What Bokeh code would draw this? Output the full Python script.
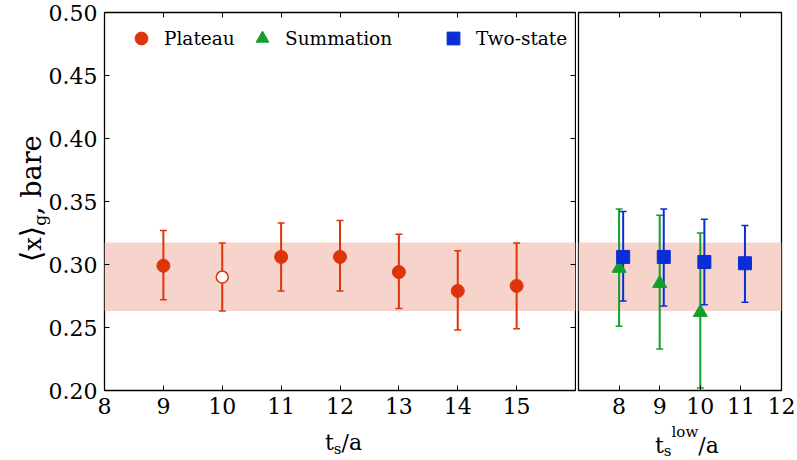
import numpy as np
from bokeh.plotting import figure
from bokeh.models import (ColumnDataSource, Whisker, TeeHead, LinearAxis, FixedTicker,
                          Range1d, Legend, LegendItem, BoxAnnotation, Div)
from bokeh.layouts import row, column
from bokeh.embed import file_html
from bokeh.resources import INLINE

# ---------------- data ----------------
plateau_t = [9, 10, 11, 12, 13, 14, 15]
plateau_val = [0.299, 0.290, 0.306, 0.306, 0.294, 0.279, 0.283]
plateau_lo = [0.272, 0.263, 0.279, 0.279, 0.265, 0.248, 0.249]
plateau_hi = [0.327, 0.317, 0.333, 0.335, 0.324, 0.311, 0.317]
plateau_open = [False, True, False, False, False, False, False]

summ_t = [8, 9, 10]
summ_val = [0.297, 0.285, 0.262]
summ_lo = [0.251, 0.233, 0.202]
summ_hi = [0.344, 0.339, 0.325]

two_t = [8.1, 9.1, 10.1, 11.1]
two_val = [0.306, 0.306, 0.302, 0.301]
two_lo = [0.271, 0.267, 0.268, 0.270]
two_hi = [0.342, 0.344, 0.336, 0.331]

band_lo, band_hi = 0.263, 0.3175

left_xticks = [8, 9, 10, 11, 12, 13, 14, 15]
right_xticks = [8, 9, 10, 11, 12]
yticks = [0.20, 0.25, 0.30, 0.35, 0.40, 0.45, 0.50]

# ---------------- style ----------------
RED = "#de3409"
GREEN = "#12a02a"
BLUE = "#0a2dd6"
BAND = "#f6d4cc"
FONT = "DejaVu Serif"
TICK_FS = "22px"


def style_axis(ax, labels=True):
    ax.axis_line_color = None
    ax.major_tick_in = 5
    ax.major_tick_out = 0
    ax.major_tick_line_color = "black"
    ax.major_tick_line_width = 1
    ax.minor_tick_line_color = None
    ax.major_label_text_font = FONT
    ax.major_label_text_color = "black"
    if labels:
        ax.major_label_text_font_size = TICK_FS
        ax.major_label_standoff = 7
    else:
        ax.major_label_text_font_size = "0px"
        ax.major_label_standoff = 0


def new_fig(fw, xr, mbl, mbr):
    f = figure(frame_width=fw, frame_height=378, x_range=xr, y_range=Range1d(0.2, 0.5),
               min_border_left=mbl, min_border_right=mbr, min_border_top=12,
               min_border_bottom=70, output_backend="svg", toolbar_location=None,
               background_fill_color="white", border_fill_color="white")
    f.xgrid.visible = False
    f.ygrid.visible = False
    f.outline_line_color = "black"
    f.outline_line_width = 1.3
    f.outline_line_alpha = 1
    return f


def add_errorbars(fig, src, color):
    fig.add_layout(Whisker(source=src, base="x", upper="hi", lower="lo", dimension="height",
                           line_color=color, line_width=2,
                           upper_head=TeeHead(size=7, line_color=color, line_width=1.5),
                           lower_head=TeeHead(size=7, line_color=color, line_width=1.5)))


# ---------------- left panel ----------------
p1 = new_fig(471, Range1d(8, 16), 104, 1)
p1.xaxis.ticker = FixedTicker(ticks=left_xticks)
p1.yaxis.ticker = FixedTicker(ticks=yticks)
p1.yaxis.major_label_overrides = {v: f"{v:.2f}" for v in yticks}
style_axis(p1.xaxis[0])
style_axis(p1.yaxis[0])
top1 = LinearAxis(ticker=FixedTicker(ticks=left_xticks),
                  major_label_overrides={v: "" for v in left_xticks})
style_axis(top1, labels=False)
p1.add_layout(top1, "above")
right1 = LinearAxis(ticker=FixedTicker(ticks=yticks),
                    major_label_overrides={v: "" for v in yticks})
style_axis(right1, labels=False)
p1.add_layout(right1, "right")

p1.add_layout(BoxAnnotation(bottom=band_lo, top=band_hi, fill_color=BAND, fill_alpha=1,
                            line_color=None, level="underlay"))

src_p = ColumnDataSource(dict(x=plateau_t, y=plateau_val, lo=plateau_lo, hi=plateau_hi))
add_errorbars(p1, src_p, RED)
fx = [t for t, o in zip(plateau_t, plateau_open) if not o]
fy = [v for v, o in zip(plateau_val, plateau_open) if not o]
ox = [t for t, o in zip(plateau_t, plateau_open) if o]
oy = [v for v, o in zip(plateau_val, plateau_open) if o]
r_plat = p1.scatter(fx, fy, marker="circle", size=13, fill_color=RED, line_color=RED)
p1.scatter(ox, oy, marker="circle", size=12, fill_color="white", line_color=RED, line_width=1.5)

# legend-only renderers (a single NaN point, nothing is drawn in the plot)
nan = np.array([np.nan])
r_sum_leg = p1.scatter(nan, nan, marker="triangle", size=14, fill_color=GREEN, line_color=GREEN)
r_two_leg = p1.scatter(nan, nan, marker="square", size=13, fill_color=BLUE, line_color=BLUE)


def make_legend(label, rend, x):
    return Legend(items=[LegendItem(label=label, renderers=[rend])], location=(x, 336),
                  orientation="horizontal", glyph_width=32, glyph_height=32, padding=0,
                  margin=0, spacing=0, label_standoff=7, border_line_alpha=0,
                  background_fill_alpha=0, label_text_font=FONT, label_text_font_size="18.5px",
                  label_text_color="black", label_height=32)


p1.add_layout(make_legend("Plateau", r_plat, 21))
p1.add_layout(make_legend("Summation", r_sum_leg, 142))
p1.add_layout(make_legend("Two-state", r_two_leg, 333))

# ---------------- right panel ----------------
p2 = new_fig(203, Range1d(7, 12), 2, 15)
p2.yaxis.visible = False
p2.xaxis.ticker = FixedTicker(ticks=right_xticks)
style_axis(p2.xaxis[0])
top2 = LinearAxis(ticker=FixedTicker(ticks=right_xticks),
                  major_label_overrides={v: "" for v in right_xticks})
style_axis(top2, labels=False)
p2.add_layout(top2, "above")

p2.add_layout(BoxAnnotation(bottom=band_lo, top=band_hi, fill_color=BAND, fill_alpha=1,
                            line_color=None, level="underlay"))

src_s = ColumnDataSource(dict(x=summ_t, y=summ_val, lo=summ_lo, hi=summ_hi))
src_t = ColumnDataSource(dict(x=two_t, y=two_val, lo=two_lo, hi=two_hi))
add_errorbars(p2, src_s, GREEN)
p2.scatter("x", "y", source=src_s, marker="triangle", size=14, fill_color=GREEN, line_color=GREEN)
add_errorbars(p2, src_t, BLUE)
p2.scatter("x", "y", source=src_t, marker="square", size=13, fill_color=BLUE, line_color=BLUE)

# ---------------- axis titles (HTML text with sub/superscripts) ----------------
H = 473  # empirical top of the label layer, relative to the page
base = ("position:absolute;white-space:nowrap;font-family:'DejaVu Serif';color:black;"
        "z-index:10;")
sub = "position:relative;line-height:1;"
labels_html = f"""
<div style="position:relative;width:797px;height:0;overflow:visible;">
  <div style="{base}left:320px;top:{428.4 - H}px;font-size:22px;line-height:22px;">t<span style="{sub}font-size:15px;top:4px;">s</span>/a</div>
  <div style="{base}left:650px;top:{431.4 - H}px;font-size:22px;line-height:22px;">t<span style="{sub}font-size:15px;top:3px;">s</span><span style="{sub}font-size:15px;top:-16px;">low</span>/a</div>
  <div style="{base}left:16px;top:{258 - H}px;font-size:24px;line-height:24px;transform:rotate(-90deg);transform-origin:0 0;"><span style="{sub}font-size:29px;line-height:0;">⟨</span>x<span style="{sub}font-size:29px;line-height:0;">⟩</span><span style="{sub}font-size:17px;top:5px;">g</span><span style="font-size:27px;line-height:0;">, bare</span></div>
</div>
"""
labels_div = Div(text=labels_html, width=797, height=0, styles={"overflow": "visible"})

layout = column(row(p1, p2), labels_div)
open("out.html", "w").write(file_html(layout, INLINE))
